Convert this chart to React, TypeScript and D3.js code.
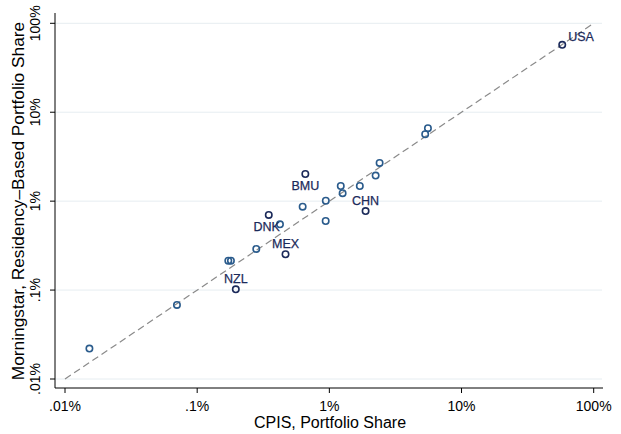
import * as d3 from "d3";

const WIDTH = 621;
const HEIGHT = 434;

const PLOT = {
  left: 55,
  right: 603,
  top: 13,
  bottom: 388,
};

const SCALE = {
  x0: 65,
  x1: 593.7,
  y0: 379,
  y1: 23.3,
};

const AXIS = {
  color: "#000",
  tickSize: 5,
  fontSize: 14,
  titleSize: 16,
  yTitleSize: 17.3,
  fontFamily: "'Liberation Sans', Arial, sans-serif",
  gridColor: "#e6edf1",
};

const MARKER = {
  r: 3.2,
  strokeWidth: 1.6,
  dark: "#1b2a5a",
  light: "#2a5b8c",
};

const LABEL = {
  fontSize: 12.5,
  color: "#1b2a5a",
};

// shares in percent
const TICKS = [0.01, 0.1, 1, 10, 100];
const TICK_LABELS = [".01%", ".1%", "1%", "10%", "100%"];

const COUNTRY = ["USA", "", "", "", "", "", "", "", "", "BMU", "", "", "CHN", "DNK", "", "", "MEX", "", "", "NZL", "", ""];
const CPIS = [57.8, 5.57, 5.31, 2.4, 2.24, 1.7, 1.22, 1.26, 0.94, 0.658, 0.628, 0.938, 1.88, 0.348, 0.423, 0.28, 0.466, 0.172, 0.18, 0.196, 0.0703, 0.0153];
const MORNINGSTAR = [57.2, 6.61, 5.65, 2.69, 1.94, 1.48, 1.48, 1.23, 1.01, 2.02, 0.867, 0.598, 0.773, 0.7, 0.549, 0.29, 0.253, 0.214, 0.214, 0.102, 0.068, 0.022];

const X_TITLE = "CPIS, Portfolio Share";
const Y_TITLE = "Morningstar, Residency–Based Portfolio Share";

// where each label sits relative to its marker
const LABEL_OFFSET: Record<string, { dx: number; dy: number; anchor: string }> = {
  USA: { dx: 6, dy: -8, anchor: "start" },
  BMU: { dx: 0, dy: 11.7, anchor: "middle" },
  CHN: { dx: 0, dy: -10.5, anchor: "middle" },
  DNK: { dx: -2, dy: 11.7, anchor: "middle" },
  MEX: { dx: 0, dy: -11, anchor: "middle" },
  NZL: { dx: 0, dy: -11, anchor: "middle" },
};

export default function App() {
  const xScale = d3.scaleLog().domain([0.01, 100]).range([SCALE.x0, SCALE.x1]);
  const yScale = d3.scaleLog().domain([0.01, 100]).range([SCALE.y0, SCALE.y1]);

  const diag = d3
    .line<number>()
    .x((d) => xScale(d))
    .y((d) => yScale(d))([0.01, 100]);

  return (
    <svg
      width={WIDTH}
      height={HEIGHT}
      style={{ position: "absolute", left: 0, top: 0, backgroundColor: "#fff" }}
      xmlns="http://www.w3.org/2000/svg"
      fontFamily={AXIS.fontFamily}
    >
      <g className="grid">
        {TICKS.map((t) => (
          <line
            key={t}
            x1={PLOT.left}
            x2={PLOT.right - 1}
            y1={yScale(t)}
            y2={yScale(t)}
            stroke={AXIS.gridColor}
            strokeWidth={1}
          />
        ))}
      </g>

      <path d={diag ?? undefined} stroke="#8a8a8a" strokeWidth={1.2} strokeDasharray="7,4" fill="none" />

      <g className="points">
        {CPIS.map((x, i) => (
          <circle
            key={i}
            cx={xScale(x)}
            cy={yScale(MORNINGSTAR[i])}
            r={MARKER.r}
            fill="none"
            stroke={COUNTRY[i] ? MARKER.dark : MARKER.light}
            strokeWidth={MARKER.strokeWidth}
          />
        ))}
      </g>

      <g className="labels">
        {COUNTRY.map((c, i) => {
          if (!c) return null;
          const off = LABEL_OFFSET[c];
          return (
            <text
              key={c}
              x={xScale(CPIS[i]) + off.dx}
              y={yScale(MORNINGSTAR[i]) + off.dy + LABEL.fontSize * 0.36}
              fontSize={LABEL.fontSize}
              fill={LABEL.color}
              stroke={LABEL.color}
              strokeWidth={0.25}
              textAnchor={off.anchor}
            >
              {c}
            </text>
          );
        })}
      </g>

      <g className="y-axis">
        <line x1={PLOT.left} x2={PLOT.left} y1={PLOT.top} y2={PLOT.bottom} stroke={AXIS.color} />
        {TICKS.map((t, i) => (
          <g key={t}>
            <line
              x1={PLOT.left - AXIS.tickSize}
              x2={PLOT.left}
              y1={yScale(t)}
              y2={yScale(t)}
              stroke={AXIS.color}
            />
            <text
              transform={`translate(40,${yScale(t)}) rotate(-90)`}
              fontSize={AXIS.fontSize}
              textAnchor="middle"
              fill="#000"
            >
              {TICK_LABELS[i]}
            </text>
          </g>
        ))}
        <text
          transform={`translate(23.5,${(PLOT.top + PLOT.bottom) / 2 + 0.5}) rotate(-90)`}
          fontSize={AXIS.yTitleSize}
          textAnchor="middle"
          fill="#000"
        >
          {Y_TITLE}
        </text>
      </g>

      <g className="x-axis">
        <line x1={PLOT.left} x2={PLOT.right} y1={PLOT.bottom} y2={PLOT.bottom} stroke={AXIS.color} />
        {TICKS.map((t, i) => (
          <g key={t}>
            <line
              x1={xScale(t)}
              x2={xScale(t)}
              y1={PLOT.bottom}
              y2={PLOT.bottom + AXIS.tickSize}
              stroke={AXIS.color}
            />
            <text x={xScale(t)} y={410.7} fontSize={AXIS.fontSize} textAnchor="middle" fill="#000">
              {TICK_LABELS[i]}
            </text>
          </g>
        ))}
        <text x={(PLOT.left + PLOT.right) / 2 + 1} y={428} fontSize={AXIS.titleSize} textAnchor="middle" fill="#000">
          {X_TITLE}
        </text>
      </g>
    </svg>
  );
}
